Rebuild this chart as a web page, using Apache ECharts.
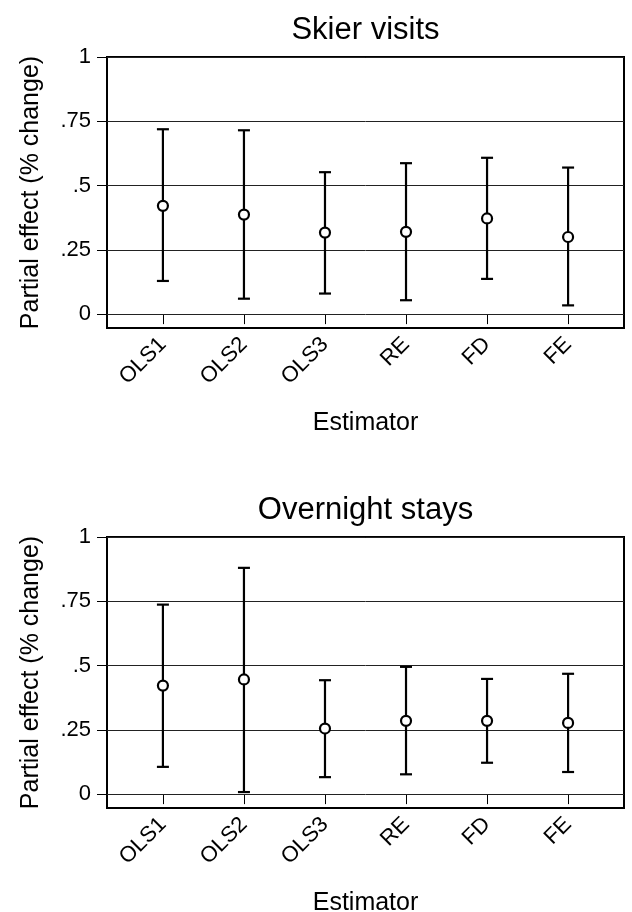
<!DOCTYPE html>
<html><head><meta charset="utf-8">
<script src="https://cdn.jsdelivr.net/npm/echarts@6/dist/echarts.min.js"></script>
<style>html,body{margin:0;padding:0;background:#fff}#c{width:632px;height:912px}</style>
</head><body><div id="c"></div>
<script>
// ---- data ----
const estimators = ['OLS1', 'OLS2', 'OLS3', 'RE', 'FD', 'FE'];
const skierEst = [0.421, 0.387, 0.317, 0.320, 0.372, 0.300];
const skierLo  = [0.129, 0.060, 0.080, 0.054, 0.137, 0.034];
const skierHi  = [0.719, 0.715, 0.552, 0.587, 0.608, 0.570];
const stayEst  = [0.422, 0.446, 0.255, 0.285, 0.285, 0.277];
const stayLo   = [0.106, 0.008, 0.066, 0.077, 0.122, 0.086];
const stayHi   = [0.737, 0.880, 0.443, 0.495, 0.448, 0.468];
const yTicks = [0, 0.25, 0.5, 0.75, 1];
const yTickLabels = ['0', '.25', '.5', '.75', '1'];
const panelTitles = ['Skier visits', 'Overnight stays'];
const xTitle = 'Estimator';
const yTitle = 'Partial effect (% change)';

// ---- layout ----
const FONT = '"Liberation Sans", Arial, Helvetica, sans-serif';
const LEFT = 107, RIGHT = 8, PLOT_H = 271;
const TOPS = [57, 537];
const CX = LEFT + (632 - LEFT - RIGHT) / 2;
const xPos = estimators.map((_, i) => i + 1);

const panels = [
  { est: skierEst, lo: skierLo, hi: skierHi },
  { est: stayEst, lo: stayLo, hi: stayHi }
];

const chart = echarts.init(document.getElementById('c'), null, { renderer: 'canvas' });

const grids = [], xAxes = [], yAxes = [], series = [], graphics = [];

panels.forEach((p, i) => {
  grids.push({ left: LEFT, right: RIGHT, top: TOPS[i], height: PLOT_H, show: true,
    borderColor: '#000', borderWidth: 2, backgroundColor: 'transparent', containLabel: false });
  xAxes.push({
    type: 'value', gridIndex: i, min: 0.31, max: 6.69,
    axisLine: { show: false }, splitLine: { show: false },
    axisTick: { show: true, customValues: xPos, length: 10, lineStyle: { color: '#000', width: 1 } },
    axisLabel: { show: true, customValues: xPos, rotate: 45, margin: 13, fontSize: 22,
      fontFamily: FONT, color: '#000', formatter: v => estimators[Math.round(v) - 1] || '' }
  });
  yAxes.push({
    type: 'value', gridIndex: i, min: -0.054, max: 1,
    axisLine: { show: false }, splitLine: { show: false },
    axisTick: { show: true, customValues: yTicks, length: 10, lineStyle: { color: '#000', width: 1 } },
    axisLabel: { show: true, customValues: yTicks, margin: 16, fontSize: 22, fontFamily: FONT, color: '#000',
      formatter: v => { const k = yTicks.findIndex(t => Math.abs(t - v) < 1e-9); return k >= 0 ? yTickLabels[k] : ''; } }
  });
  series.push({
    type: 'custom', xAxisIndex: i, yAxisIndex: i, z: 3, silent: true,
    data: xPos.map((x, k) => [x, p.lo[k], p.hi[k]]),
    encode: { x: 0, y: [1, 2] },
    renderItem: (params, api) => {
      const x = api.value(0);
      const a = api.coord([x, api.value(1)]);
      const b = api.coord([x, api.value(2)]);
      const hw = 6;
      const st = { stroke: '#000', lineWidth: 2.2 };
      return { type: 'group', children: [
        { type: 'line', shape: { x1: a[0], y1: a[1], x2: b[0], y2: b[1] }, style: st },
        { type: 'line', shape: { x1: a[0] - hw, y1: a[1], x2: a[0] + hw, y2: a[1] }, style: st },
        { type: 'line', shape: { x1: b[0] - hw, y1: b[1], x2: b[0] + hw, y2: b[1] }, style: st }
      ] };
    }
  });
  series.push({
    type: 'scatter', xAxisIndex: i, yAxisIndex: i, z: 4, silent: true,
    data: xPos.map((x, k) => [x, p.est[k]]),
    symbol: 'circle', symbolSize: 10,
    itemStyle: { color: '#fff', borderColor: '#000', borderWidth: 2.2, opacity: 1 },
    markLine: { silent: true, symbol: 'none', label: { show: false }, z: 1,
      lineStyle: { color: '#222', width: 1, type: 'solid' },
      emphasis: { disabled: true },
      data: yTicks.map(v => ({ yAxis: v })) }
  });
  const top = TOPS[i];
  graphics.push({ type: 'text', x: CX, y: top - 27, style: { text: panelTitles[i], fontSize: 31, fontFamily: FONT, fill: '#000', align: 'center', verticalAlign: 'middle' } });
  graphics.push({ type: 'text', x: CX, y: top + 366, style: { text: xTitle, fontSize: 25, fontFamily: FONT, fill: '#000', align: 'center', verticalAlign: 'middle' } });
  graphics.push({ type: 'text', x: 31, y: top + PLOT_H / 2, rotation: Math.PI / 2, style: { text: yTitle, fontSize: 25, fontFamily: FONT, fill: '#000', align: 'center', verticalAlign: 'middle' } });
});

chart.setOption({
  animation: false,
  backgroundColor: '#fff',
  grid: grids, xAxis: xAxes, yAxis: yAxes, series: series, graphic: graphics
});
</script></body></html>
